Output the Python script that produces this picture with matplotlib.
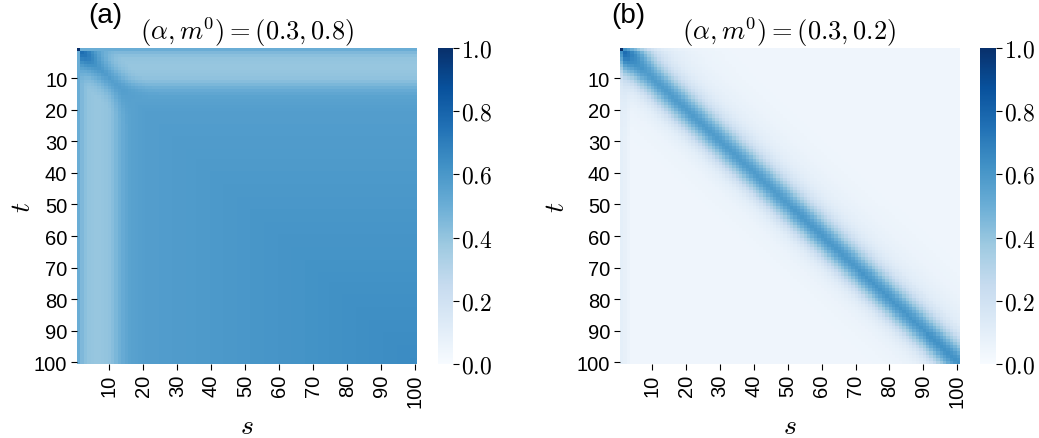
import numpy as np
import matplotlib
matplotlib.use("Agg")
import matplotlib.pyplot as plt

plt.rcParams['mathtext.fontset'] = 'cm'
plt.rcParams['font.family'] = ['Liberation Sans', 'DejaVu Sans']

N = 100
tick_values = list(range(10, 101, 10))
cbar_ticks = [0.0, 0.2, 0.4, 0.6, 0.8, 1.0]
titles = [r'$(\alpha, m^0) = (0.3, 0.8)$', r'$(\alpha, m^0) = (0.3, 0.2)$']
panel_tags = ['(a)', '(b)']

# ---- panel (a): values ----
# level of C(t,s) set by min(t,s), index 1..100
base_a = [0.500, 0.450, 0.420, 0.400, 0.395, 0.392, 0.392, 0.395, 0.400, 0.410,
          0.430, 0.460, 0.490, 0.515, 0.535, 0.548, 0.556, 0.562, 0.566, 0.570,
          0.571, 0.572, 0.573, 0.574, 0.575, 0.576, 0.577, 0.578, 0.579, 0.580,
          0.581, 0.582, 0.583, 0.584, 0.585, 0.586, 0.587, 0.588, 0.589, 0.590,
          0.591, 0.592, 0.593, 0.594, 0.595, 0.596, 0.597, 0.598, 0.599, 0.600,
          0.601, 0.602, 0.603, 0.604, 0.605, 0.606, 0.607, 0.608, 0.609, 0.610,
          0.611, 0.612, 0.613, 0.614, 0.615, 0.616, 0.617, 0.618, 0.619, 0.620,
          0.621, 0.622, 0.623, 0.624, 0.625, 0.626, 0.627, 0.628, 0.629, 0.630,
          0.631, 0.632, 0.633, 0.634, 0.635, 0.636, 0.637, 0.638, 0.639, 0.640,
          0.641, 0.642, 0.643, 0.644, 0.645, 0.646, 0.647, 0.648, 0.649, 0.650]
# value on the diagonal near the origin, index 1..16
diag_a = [0.50, 0.76, 0.73, 0.69, 0.65, 0.62, 0.60, 0.59, 0.58, 0.575,
          0.57, 0.57, 0.57, 0.57, 0.565, 0.56]
# how the diagonal ridge fades with lag |t-s|
ridge_a = [1.0, 0.9, 0.76, 0.6, 0.45, 0.32, 0.21, 0.13, 0.07, 0.03]
corner_a = 1.0

# ---- panel (b) ----
# band value against lag, below (s<t) and above (s>t) the diagonal
lag_lower_b = [0.60, 0.58, 0.54, 0.49, 0.43, 0.37, 0.31, 0.25, 0.20, 0.16,
               0.13, 0.11, 0.095, 0.085, 0.075, 0.068, 0.063, 0.058, 0.055, 0.052,
               0.050, 0.048, 0.046, 0.045, 0.044, 0.043, 0.042, 0.041] + [0.04] * 72
lag_upper_b = [0.60, 0.58, 0.55, 0.50, 0.45, 0.39, 0.33, 0.28, 0.23, 0.19,
               0.16, 0.14, 0.12, 0.108, 0.098, 0.09, 0.084, 0.078, 0.073, 0.068,
               0.064, 0.061, 0.058, 0.055, 0.053, 0.051, 0.049, 0.047, 0.046, 0.045,
               0.044, 0.043, 0.042, 0.041] + [0.04] * 66
# band strength along the diagonal, index 1..100
gain_b = ([1.0, 1.22, 1.18, 1.12, 1.07, 1.03, 1.01] + [0.97] * 43
          + [0.99] * 20 + [1.01] * 20 + [1.04] * 10)
floor_b = 0.04
col_offset_b = [0.05, 0.04, 0.02]
corner_b = 1.0


def build_a():
    ii, jj = np.meshgrid(np.arange(N), np.arange(N))
    lo = np.minimum(ii, jj)
    lag = np.abs(ii - jj)
    base = np.array(base_a)
    m = base[lo]
    diag = np.array(diag_a + base_a[len(diag_a):])
    ridge = np.array(ridge_a + [0.0] * (N - len(ridge_a)))
    m = m + (diag[lo] - base[lo]) * ridge[lag]
    m[0, 0] = corner_a
    return m


def build_b():
    tt, ss = np.meshgrid(np.arange(N), np.arange(N), indexing='ij')
    lo = np.minimum(tt, ss)
    lag = np.abs(tt - ss)
    prof = np.where(ss < tt, np.array(lag_lower_b)[lag], np.array(lag_upper_b)[lag])
    m = floor_b + (prof - floor_b) * np.array(gain_b)[lo]
    off = np.array(col_offset_b + [0.0] * (N - len(col_offset_b)))
    m = m + off[ss]
    m[0, 0] = corner_b
    return m


mats = [build_a(), build_b()]

fig = plt.figure(figsize=(10.39, 4.39), dpi=100)
ax_boxes = [[0.0741, 0.1686, 0.3272, 0.7198], [0.5967, 0.1686, 0.3263, 0.7198]]
cb_boxes = [[0.4216, 0.1686, 0.0144, 0.7198], [0.9432, 0.1686, 0.0154, 0.7198]]
ylabel_x = [-0.122, -0.147]

for k in range(2):
    ax = fig.add_axes(ax_boxes[k])
    im = ax.imshow(mats[k], cmap='Blues', vmin=0, vmax=1, aspect='auto',
                   interpolation='nearest', extent=(0.5, N + 0.5, N + 0.5, 0.5))
    for sp in ax.spines.values():
        sp.set_visible(False)
    ax.set_xticks(tick_values)
    ax.set_yticks(tick_values)
    ax.set_xticklabels([str(v) for v in tick_values], rotation=90)
    ax.tick_params(labelsize=14.5, length=4, width=0.8, pad=3)
    ax.set_xlabel(r'$s$', fontsize=20, labelpad=4)
    ax.set_ylabel(r'$t$', fontsize=20)
    ax.yaxis.set_label_coords(ylabel_x[k], 0.5)
    ax.set_title(titles[k], fontsize=19, pad=1)

    cax = fig.add_axes(cb_boxes[k])
    cb = fig.colorbar(im, cax=cax, ticks=cbar_ticks)
    cb.outline.set_visible(False)
    cb.ax.set_yticklabels([r'$%.1f$' % v for v in cbar_ticks])
    cb.ax.tick_params(labelsize=17, length=4, width=0.8, pad=2)

fig.text(0.101, 0.963, panel_tags[0], fontsize=20, ha='center', va='center')
fig.text(0.605, 0.963, panel_tags[1], fontsize=20, ha='center', va='center')

fig.savefig('out.png', dpi=100)
